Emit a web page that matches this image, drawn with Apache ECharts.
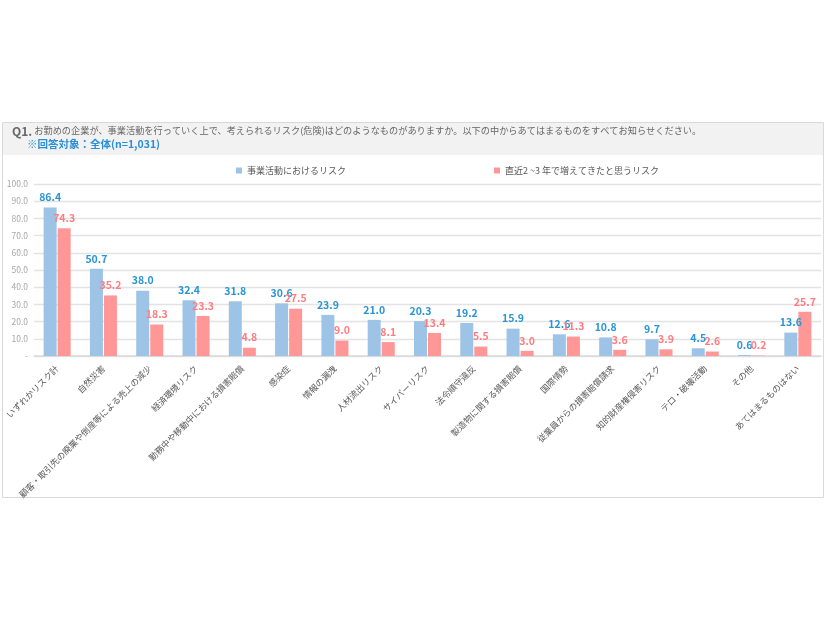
<!DOCTYPE html>
<html><head><meta charset="utf-8">
<script src="https://cdn.jsdelivr.net/npm/echarts@6/dist/echarts.min.js"></script>
<style>html,body{margin:0;padding:0;background:#fff;}#c{width:826px;height:620px;}</style>
</head><body><div id="c"></div>
<script>
const categories = ['いずれかリスク計','自然災害','顧客・取引先の廃業や倒産等による売上の減少','経済環境リスク','勤務中や移動中における損害賠償','感染症','情報の漏洩','人材流出リスク','サイバーリスク','法令順守違反','製造物に関する損害賠償','国際情勢','従業員からの損害賠償請求','知的財産権侵害リスク','テロ・破壊活動','その他','あてはまるものはない'];
const seriesNames = ['事業活動におけるリスク','直近2 ~3 年で増えてきたと思うリスク'];
const businessRisk = [86.4,50.7,38.0,32.4,31.8,30.6,23.9,21.0,20.3,19.2,15.9,12.6,10.8,9.7,4.5,0.6,13.6];
const increasedRisk = [74.3,35.2,18.3,23.3,4.8,27.5,9.0,8.1,13.4,5.5,3.0,11.3,3.6,3.9,2.6,0.2,25.7];
const titleLine1 = 'お勤めの企業が、事業活動を行っていく上で、考えられるリスク(危険)はどのようなものがありますか。以下の中からあてはまるものをすべてお知らせください。';
const titleLine2 = '※回答対象：全体(n=1,031)';

const FONT = '"Noto Sans CJK JP","Noto Sans",sans-serif';
const chart = echarts.init(document.getElementById('c'), null, {renderer:'canvas'});
chart.setOption({
  animation:false,
  textStyle:{fontFamily:FONT},
  graphic:[
    {type:'rect', z:0, shape:{x:2.5,y:122.5,width:821,height:375}, style:{fill:'#fff',stroke:'#d9d9d9',lineWidth:1}},
    {type:'rect', z:0, shape:{x:3,y:123,width:820,height:32}, style:{fill:'#f2f2f2'}}
  ],
  title:[
    {left:7, top:120, z:10, text:'{q|Q1.} '+titleLine1,
     textStyle:{fontFamily:FONT, rich:{q:{fontSize:12,fontWeight:'bold',color:'#666',fontFamily:FONT}}, fontSize:9.2, fontWeight:'normal', color:'#666'}},
    {left:22, top:134, z:10, text:titleLine2,
     textStyle:{fontFamily:FONT, fontSize:10.5, fontWeight:'bold', color:'#2a8fd8'}}
  ],
  legend:[
    {left:231, top:161, itemWidth:6, itemHeight:6, itemGap:5, icon:'rect', data:[seriesNames[0]],
     textStyle:{fontSize:9, color:'#595959', fontFamily:FONT}},
    {left:489, top:161, itemWidth:6, itemHeight:6, icon:'rect', data:[seriesNames[1]],
     textStyle:{fontSize:9, color:'#595959', fontFamily:FONT}}
  ],
  grid:{left:34, right:5, top:184, bottom:264, containLabel:false},
  xAxis:{type:'category', data:categories,
    axisLine:{lineStyle:{color:'#d9d9d9',width:1.5}}, axisTick:{show:false},
    axisLabel:{interval:0, rotate:45, fontSize:8.7, color:'#595959', margin:11, fontFamily:FONT}},
  yAxis:{type:'value', min:0, max:100, interval:10,
    axisLine:{show:false}, axisTick:{show:false},
    splitLine:{lineStyle:{color:'#e3e3e3',width:1.3}},
    axisLabel:{fontSize:8.5, color:'#a6a6a6', margin:6, fontFamily:FONT,
      formatter:v=> v===0 ? '-' : v.toFixed(1)}},
  series:[
    {name:seriesNames[0], type:'bar', data:businessRisk, barWidth:13, barGap:'8%',
     itemStyle:{color:'#9dc3e6'},
     label:{show:true, position:'top', distance:5, fontSize:10.5, fontWeight:'bold', color:'#2a95d4', fontFamily:FONT,
       formatter:p=>p.value.toFixed(1)}},
    {name:seriesNames[1], type:'bar', data:increasedRisk, barWidth:13,
     itemStyle:{color:'#ff9797'},
     label:{show:true, position:'top', distance:5, fontSize:10.5, fontWeight:'bold', color:'#ff7c80', fontFamily:FONT,
       formatter:p=>p.value.toFixed(1)}}
  ]
});
</script></body></html>
